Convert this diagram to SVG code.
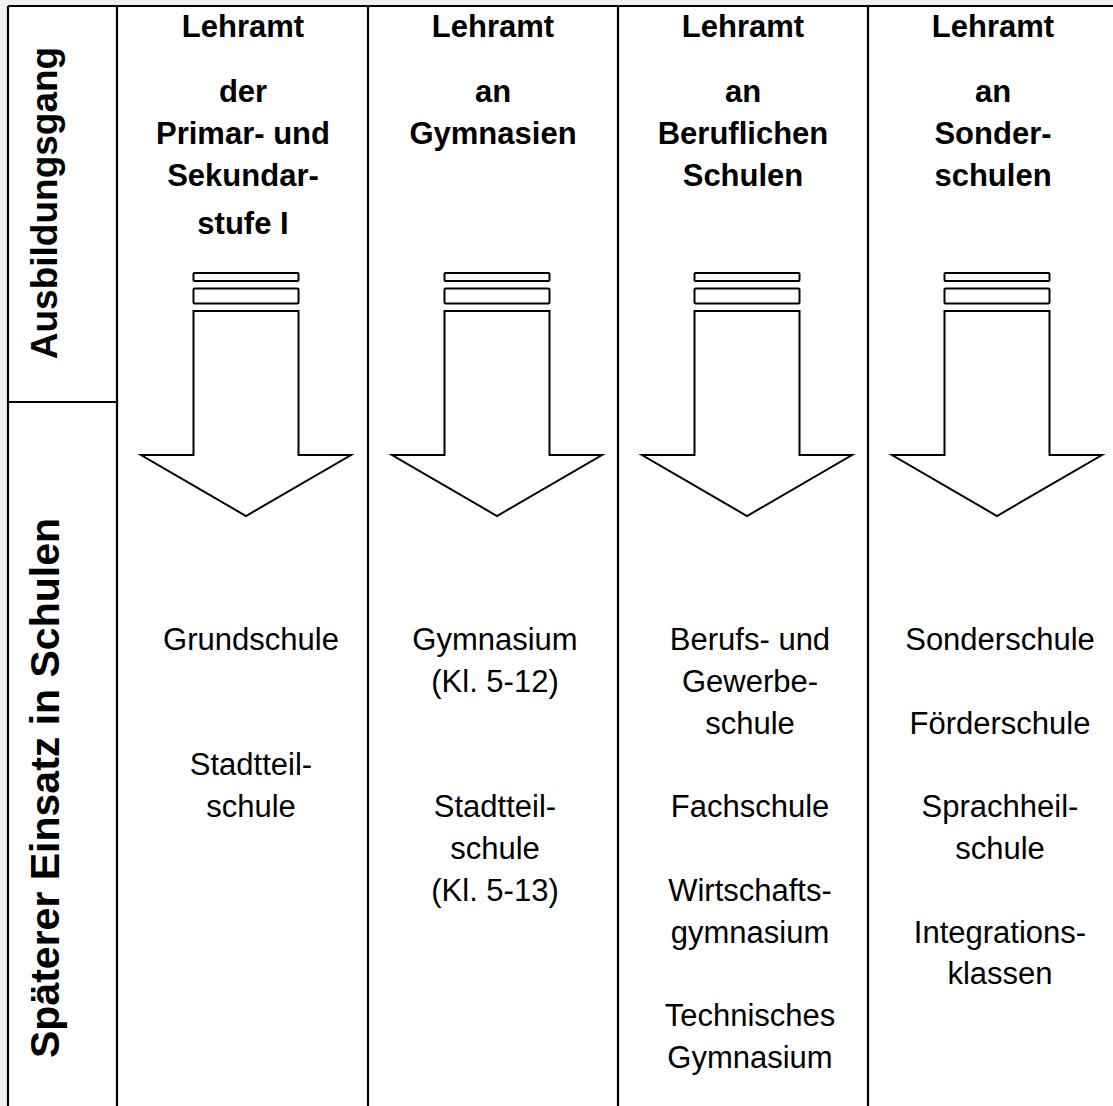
<svg xmlns="http://www.w3.org/2000/svg" width="1113" height="1106" viewBox="0 0 1113 1106">
<style>
.ln{stroke:#000;stroke-width:2.2;fill:none}
.ar{stroke:#000;stroke-width:2;fill:#fff;stroke-linejoin:miter}
.h{font-family:"Liberation Sans",Arial,sans-serif;font-weight:bold;font-size:31px;text-anchor:middle;fill:#000}
.b{font-family:"Liberation Sans",Arial,sans-serif;font-size:31px;text-anchor:middle;fill:#000}
.v{font-family:"Liberation Sans",Arial,sans-serif;font-weight:bold;font-size:37px;text-anchor:middle;fill:#000}
</style>
<defs>
<g id="arrow">
<rect class="ar" x="-52.5" y="273" width="105" height="8" rx="1"/>
<rect class="ar" x="-52.5" y="288.5" width="105" height="15" rx="1"/>
<path class="ar" d="M-52.5,311 H52.5 V455 H105 L0,516 L-105,455 H-52.5 Z"/>
</g>
</defs>
<rect width="1113" height="1106" fill="#f0f0f0"/>
<rect x="8" y="6" width="1105" height="1100" fill="#fff"/>
<g id="connectors">
<path class="ln" d="M8,6 H1113 M8,6 V1106 M117,6 V1106 M368,6 V1106 M618,6 V1106 M868,6 V1106 M8,402 H117"/>
</g>
<g id="row-ausbildungsgang">
<text class="v" transform="translate(57,203) rotate(-90)">Ausbildungsgang</text>
</g>
<g id="row-einsatz">
<text class="v" style="font-size:41px" transform="translate(58.5,788) rotate(-90)">Späterer Einsatz in Schulen</text>
</g>
<g id="head-primar">
<text class="h" x="243" y="37">Lehramt</text>
<text class="h" x="243" y="102">der</text>
<text class="h" x="243" y="143.8">Primar- und</text>
<text class="h" x="243" y="185.6">Sekundar-</text>
<text class="h" x="243" y="234">stufe I</text>
</g>
<g id="head-gymnasien">
<text class="h" x="493" y="37">Lehramt</text>
<text class="h" x="493" y="102">an</text>
<text class="h" x="493" y="143.8">Gymnasien</text>
</g>
<g id="head-beruflich">
<text class="h" x="743" y="37">Lehramt</text>
<text class="h" x="743" y="102">an</text>
<text class="h" x="743" y="143.8">Beruflichen</text>
<text class="h" x="743" y="185.6">Schulen</text>
</g>
<g id="head-sonder">
<text class="h" x="993" y="37">Lehramt</text>
<text class="h" x="993" y="102">an</text>
<text class="h" x="993" y="143.8">Sonder-</text>
<text class="h" x="993" y="185.6">schulen</text>
</g>
<g id="arrow-1"><use href="#arrow" x="246"/></g>
<g id="arrow-2"><use href="#arrow" x="497"/></g>
<g id="arrow-3"><use href="#arrow" x="747"/></g>
<g id="arrow-4"><use href="#arrow" x="997"/></g>
<g id="body-primar">
<text class="b" x="251" y="650">Grundschule</text>
<text class="b" x="251" y="775.4">Stadtteil-</text>
<text class="b" x="251" y="817.2">schule</text>
</g>
<g id="body-gymnasien">
<text class="b" x="495" y="650">Gymnasium</text>
<text class="b" x="495" y="691.8">(Kl. 5-12)</text>
<text class="b" x="495" y="817.2">Stadtteil-</text>
<text class="b" x="495" y="859">schule</text>
<text class="b" x="495" y="900.8">(Kl. 5-13)</text>
</g>
<g id="body-beruflich">
<text class="b" x="750" y="650">Berufs- und</text>
<text class="b" x="750" y="691.8">Gewerbe-</text>
<text class="b" x="750" y="733.6">schule</text>
<text class="b" x="750" y="817.2">Fachschule</text>
<text class="b" x="750" y="900.8">Wirtschafts-</text>
<text class="b" x="750" y="942.6">gymnasium</text>
<text class="b" x="750" y="1026.2">Technisches</text>
<text class="b" x="750" y="1068">Gymnasium</text>
</g>
<g id="body-sonder">
<text class="b" x="1000" y="650">Sonderschule</text>
<text class="b" x="1000" y="733.6">Förderschule</text>
<text class="b" x="1000" y="817.2">Sprachheil-</text>
<text class="b" x="1000" y="859">schule</text>
<text class="b" x="1000" y="942.6">Integrations-</text>
<text class="b" x="1000" y="984.4">klassen</text>
</g>
</svg>
